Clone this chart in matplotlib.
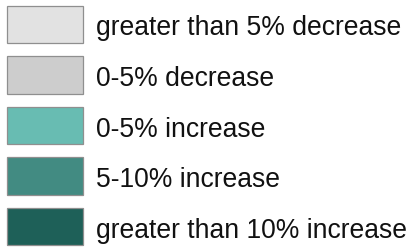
import matplotlib
matplotlib.use("Agg")
import matplotlib.pyplot as plt
from matplotlib.patches import Rectangle

labels = ["greater than 5% decrease", "0-5% decrease", "0-5% increase",
          "5-10% increase", "greater than 10% increase"]
colors = ["#e2e2e2", "#cdcdcd", "#68bcb2", "#428b82", "#1e6058"]

W, H = 414, 249
fig = plt.figure(figsize=(W / 100, H / 100), dpi=100)
ax = fig.add_axes([0, 0, 1, 1])
ax.set_xlim(0, W)
ax.set_ylim(H, 0)
ax.axis("off")

top0 = 5.5
step = 50.6
box_w, box_h = 75.5, 37.5
for i, (lab, col) in enumerate(zip(labels, colors)):
    y = top0 + i * step
    ax.add_patch(Rectangle((7.5, y), box_w, box_h, facecolor=col,
                           edgecolor="#8f8f8f", linewidth=0.9))
    ax.text(96, y + 29.8, lab, fontsize=19.1, family="Liberation Sans",
            color="#111111", va="baseline", ha="left")

fig.savefig("out.png", dpi=100)
